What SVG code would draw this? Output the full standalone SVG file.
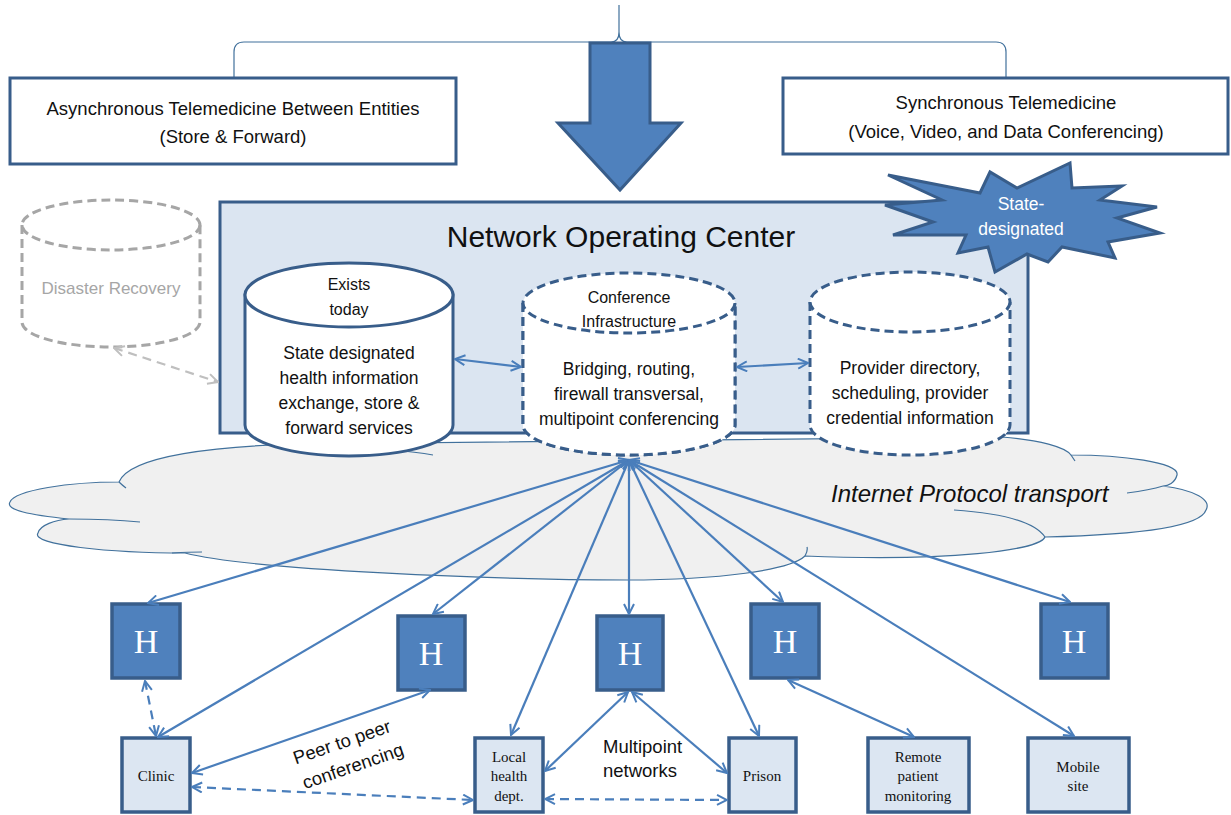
<svg xmlns="http://www.w3.org/2000/svg" width="1231" height="815" viewBox="0 0 1231 815">
<style>
.t{font-family:"Liberation Sans",Arial,sans-serif;fill:#111;text-anchor:middle}
.tm{font-family:"Liberation Serif","Times New Roman",serif;fill:#111;text-anchor:middle;font-size:15px}
.hb{fill:#4f81bd;stroke:#385d8a;stroke-width:3.5}
.lb{fill:#dce6f2;stroke:#385d8a;stroke-width:3.5}
.H{font-family:"Liberation Serif","Times New Roman",serif;fill:#fff;text-anchor:middle;font-size:34px}
.c{fill:none;stroke:#4a7ebb;stroke-width:2.2}
.cd{fill:none;stroke:#4a7ebb;stroke-width:2.2;stroke-dasharray:9 6}
.cyl{fill:#fff;stroke:#385d8a;stroke-width:3}
.cyld{fill:#fff;stroke:#385d8a;stroke-width:3;stroke-dasharray:9 5}
.cl{fill:none;stroke:#41719c;stroke-width:1.2}
</style>
<defs>
<marker id="ah" viewBox="0 0 12 12" refX="11" refY="6" markerWidth="12" markerHeight="12" markerUnits="userSpaceOnUse" orient="auto-start-reverse">
<path d="M1,1 L11,6 L1,11" fill="none" stroke="#4a7ebb" stroke-width="2"/>
</marker>
<marker id="ag" viewBox="0 0 12 12" refX="11" refY="6" markerWidth="12" markerHeight="12" markerUnits="userSpaceOnUse" orient="auto-start-reverse">
<path d="M1,1 L11,6 L1,11" fill="none" stroke="#bfbfbf" stroke-width="2"/>
</marker>
</defs>
<rect width="1231" height="815" fill="#fff"/>

<!-- brace -->
<g id="brace">
<path class="cl" d="M234,78 L234,52 Q234,42 244,42 L611,42 Q619,42 619,32 L619,5 M619,32 Q619,42 627,42 L996,42 Q1006,42 1006,52 L1006,80" stroke="#4a7ebb"/>
</g>

<g id="async">
<rect x="10" y="78" width="446" height="86" fill="#fff" stroke="#385d8a" stroke-width="3"/>
<text class="t" x="233" y="115" font-size="18.5">Asynchronous Telemedicine Between Entities</text>
<text class="t" x="233" y="143" font-size="18.5">(Store &amp; Forward)</text>
</g>
<g id="sync">
<rect x="783" y="78" width="445" height="76" fill="#fff" stroke="#385d8a" stroke-width="3"/>
<text class="t" x="1006" y="109" font-size="18.5">Synchronous Telemedicine</text>
<text class="t" x="1006" y="138" font-size="18.5">(Voice, Video, and Data Conferencing)</text>
</g>
<g id="bigarrow">
<polygon points="590,43 650,43 650,123 681,123 620,190 558,123 590,123" fill="#4f81bd" stroke="#385d8a" stroke-width="3" stroke-linejoin="miter"/>
</g>

<!-- cloud -->
<g id="cloud">
<path d="M119,482 C130,455 220,446 300,444 L1002,437 C1040,440 1065,447 1071,455 C1120,455 1180,462 1177,475 C1175,483 1168,486 1163,486 C1195,490 1212,500 1206,510 C1200,528 1130,535 1045,537 C1040,550 950,562 805,556 C790,570 720,580 627,580 C500,580 250,570 185,553 C110,553 30,545 38,533 C40,525 55,520 69,519 C30,515 5,510 10,502 C15,490 70,482 119,482 Z" fill="#f0f0f0" stroke="#41719c" stroke-width="1.2"/>
<path class="cl" d="M119,482 Q122,485 126,488 M69,519 Q110,519 140,522 M172,553 Q190,552 202,552 M805,556 Q808,551 807,547 M1045,537 Q1030,515 954,510 M1163,486 Q1150,490 1127,493 M1071,455 Q1073,458 1075,461 M330,447 Q400,449 433,455"/>
<text x="831" y="502" font-family="Liberation Sans,Arial,sans-serif" font-style="italic" font-size="24" fill="#111">Internet Protocol transport</text>
</g>

<!-- disaster recovery -->
<g id="dr">
<path d="M22,225 L22,322 A89,25 0 0 0 200,322 L200,225" fill="none" stroke="#a6a6a6" stroke-width="3" stroke-dasharray="9 5"/>
<ellipse cx="111" cy="225" rx="89" ry="25" fill="none" stroke="#a6a6a6" stroke-width="3" stroke-dasharray="9 5"/>
<text class="t" x="111" y="294" font-size="17" fill="#a6a6a6" style="fill:#a6a6a6">Disaster Recovery</text>
</g>

<!-- NOC -->
<g id="noc">
<rect x="220" y="202" width="808" height="231" fill="#dbe5f1" stroke="#385d8a" stroke-width="3"/>
<text class="t" x="621" y="247" font-size="30">Network Operating Center</text>
</g>

<g id="star">
<polygon points="888,175 980,193 990,172 1017,188 1070,163 1072,188 1122,186 1100,200 1157,207 1117,218 1160,233 1108,242 1115,258 1062,247 1048,262 1027,254 995,272 988,247 958,253 966,235 893,235 933,222 885,205 942,200" fill="#4f81bd" stroke="#385d8a" stroke-width="3" stroke-linejoin="miter"/>
<text x="1021" y="210" font-family="Liberation Sans,Arial,sans-serif" font-size="17.5" fill="#fff" text-anchor="middle">State-</text>
<text x="1021" y="235" font-family="Liberation Sans,Arial,sans-serif" font-size="17.5" fill="#fff" text-anchor="middle">designated</text>
</g>

<g id="cyl1">
<path class="cyl" d="M245,295 L245,425 A104,31 0 0 0 453,425 L453,295 Z"/>
<ellipse class="cyl" cx="349" cy="295" rx="104" ry="32"/>
<text class="t" x="349" y="290" font-size="16">Exists</text>
<text class="t" x="349" y="315" font-size="16">today</text>
<text class="t" x="349" y="359" font-size="17.5">State designated</text>
<text class="t" x="349" y="384" font-size="17.5">health information</text>
<text class="t" x="349" y="409" font-size="17.5">exchange, store &amp;</text>
<text class="t" x="349" y="434" font-size="17.5">forward services</text>
</g>
<g id="cyl2">
<path class="cyld" d="M523,303 L523,425 A106,30 0 0 0 735,425 L735,303"/>
<path d="M523,303 L523,425 A106,30 0 0 0 735,425 L735,303 Z" fill="#fff"/>
<path class="cyld" d="M523,303 L523,425 A106,30 0 0 0 735,425 L735,303"/>
<ellipse class="cyld" cx="629" cy="303" rx="106" ry="30"/>
<text class="t" x="629" y="303" font-size="16">Conference</text>
<text class="t" x="629" y="327" font-size="16">Infrastructure</text>
<text class="t" x="629" y="375" font-size="17.5">Bridging, routing,</text>
<text class="t" x="629" y="400" font-size="17.5">firewall transversal,</text>
<text class="t" x="629" y="425" font-size="17.5">multipoint conferencing</text>
</g>
<g id="cyl3">
<path d="M810,302 L810,425 A100,30 0 0 0 1010,425 L1010,302 Z" fill="#fff"/>
<path class="cyld" d="M810,302 L810,425 A100,30 0 0 0 1010,425 L1010,302"/>
<ellipse class="cyld" cx="910" cy="302" rx="100" ry="30"/>
<text class="t" x="910" y="374" font-size="17.5">Provider directory,</text>
<text class="t" x="910" y="399" font-size="17.5">scheduling, provider</text>
<text class="t" x="910" y="424" font-size="17.5">credential information</text>
</g>

<!-- H boxes -->
<g id="h1"><rect class="hb" x="112" y="604" width="68" height="74"/><text class="H" x="146" y="653">H</text></g>
<g id="h2"><rect class="hb" x="398" y="616" width="67" height="74"/><text class="H" x="431" y="665">H</text></g>
<g id="h3"><rect class="hb" x="597" y="616" width="66" height="74"/><text class="H" x="630" y="665">H</text></g>
<g id="h4"><rect class="hb" x="751" y="604" width="68" height="74"/><text class="H" x="785" y="653">H</text></g>
<g id="h5"><rect class="hb" x="1041" y="604" width="67" height="74"/><text class="H" x="1074" y="653">H</text></g>

<!-- lower boxes -->
<g id="clinic"><rect class="lb" x="122" y="738" width="68" height="74"/><text class="tm" x="156" y="781">Clinic</text></g>
<g id="local"><rect class="lb" x="475" y="738" width="68" height="74"/><text class="tm" x="509" y="762">Local</text><text class="tm" x="509" y="781">health</text><text class="tm" x="509" y="801">dept.</text></g>
<g id="prison"><rect class="lb" x="729" y="738" width="67" height="74"/><text class="tm" x="762" y="781">Prison</text></g>
<g id="remote"><rect class="lb" x="868" y="738" width="101" height="74"/><text class="tm" x="918" y="762">Remote</text><text class="tm" x="918" y="781">patient</text><text class="tm" x="918" y="801">monitoring</text></g>
<g id="mobile"><rect class="lb" x="1028" y="738" width="101" height="74"/><text class="tm" x="1078" y="772">Mobile</text><text class="tm" x="1078" y="791">site</text></g>

<!-- connectors -->
<g id="connectors">
<line x1="455" y1="359" x2="521" y2="367" class="c" marker-start="url(#ah)" marker-end="url(#ah)"/>
<line x1="737" y1="367" x2="808" y2="363" class="c" marker-start="url(#ah)" marker-end="url(#ah)"/>
<line x1="114" y1="348" x2="218" y2="382" fill="none" stroke="#bfbfbf" stroke-width="2.2" stroke-dasharray="9 6" marker-start="url(#ag)" marker-end="url(#ag)"/>

<line x1="629" y1="460" x2="148" y2="603" class="c" marker-start="url(#ah)" marker-end="url(#ah)"/>
<line x1="629" y1="460" x2="158" y2="737" class="c" marker-start="url(#ah)" marker-end="url(#ah)"/>
<line x1="629" y1="460" x2="433" y2="614" class="c" marker-start="url(#ah)" marker-end="url(#ah)"/>
<line x1="629" y1="460" x2="511" y2="735" class="c" marker-start="url(#ah)" marker-end="url(#ah)"/>
<line x1="629" y1="460" x2="629" y2="614" class="c" marker-start="url(#ah)" marker-end="url(#ah)"/>
<line x1="629" y1="460" x2="759" y2="736" class="c" marker-start="url(#ah)" marker-end="url(#ah)"/>
<line x1="629" y1="460" x2="783" y2="602" class="c" marker-start="url(#ah)" marker-end="url(#ah)"/>
<line x1="629" y1="460" x2="1074" y2="736" class="c" marker-start="url(#ah)" marker-end="url(#ah)"/>
<line x1="629" y1="460" x2="1070" y2="602" class="c" marker-start="url(#ah)" marker-end="url(#ah)"/>

<line x1="145" y1="681" x2="156" y2="736" class="cd" marker-start="url(#ah)" marker-end="url(#ah)"/>
<line x1="192" y1="773" x2="430" y2="690" class="c" marker-start="url(#ah)" marker-end="url(#ah)"/>
<line x1="192" y1="787" x2="473" y2="800" class="cd" marker-start="url(#ah)" marker-end="url(#ah)"/>
<line x1="545" y1="799" x2="727" y2="800" class="cd" marker-start="url(#ah)" marker-end="url(#ah)"/>
<line x1="545" y1="771" x2="628" y2="692" class="c" marker-start="url(#ah)" marker-end="url(#ah)"/>
<line x1="632" y1="692" x2="727" y2="773" class="c" marker-start="url(#ah)" marker-end="url(#ah)"/>
<line x1="788" y1="680" x2="914" y2="737" class="c" marker-start="url(#ah)" marker-end="url(#ah)"/>
</g>

<g id="labels">
<text class="t" font-size="18.5" transform="translate(344,748) rotate(-19)">Peer to peer</text>
<text class="t" font-size="18.5" transform="translate(355,772) rotate(-19)">conferencing</text>
<text x="603" y="753" font-family="Liberation Sans,Arial,sans-serif" font-size="18.5" fill="#111">Multipoint</text>
<text x="603" y="777" font-family="Liberation Sans,Arial,sans-serif" font-size="18.5" fill="#111">networks</text>
</g>
</svg>
